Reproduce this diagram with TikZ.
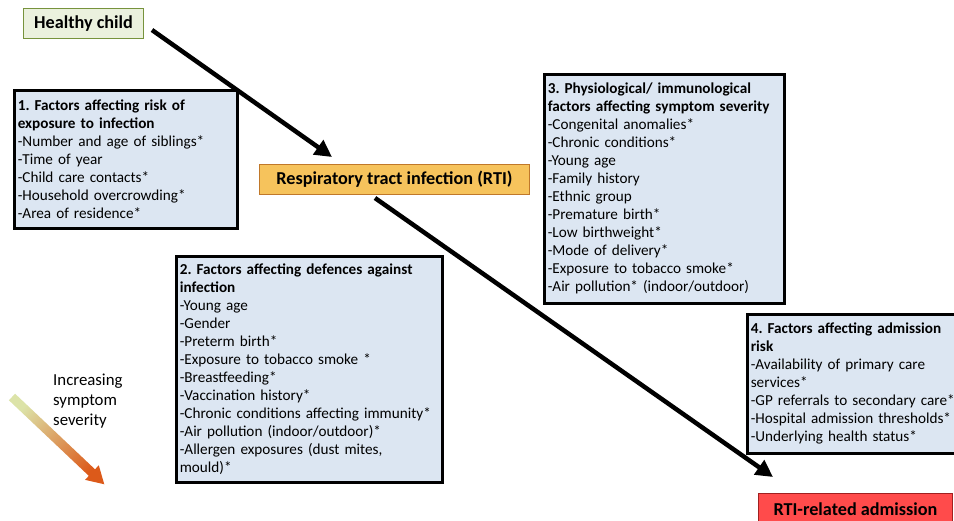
\documentclass[tikz,border=0pt]{standalone}
\usepackage{fontspec}
\setmainfont{Carlito}
\usetikzlibrary{arrows.meta}
\definecolor{boxblue}{HTML}{DCE6F2}
\definecolor{childfill}{HTML}{EBF1DE}
\definecolor{childline}{HTML}{77933C}
\definecolor{rtifill}{HTML}{F6C35C}
\definecolor{rtiline}{HTML}{C0782A}
\definecolor{admfill}{HTML}{FF4B4B}
\definecolor{admline}{HTML}{A02020}
\definecolor{sevstart}{HTML}{DCE3A8}
\definecolor{sevmid}{HTML}{E8B41E}
\definecolor{sevend}{HTML}{DC5A1A}
\frenchspacing

\begin{document}
\begin{tikzpicture}[x=1pt, y=1pt,
    factorbox/.style={draw=black, line width=2.6pt, fill=boxblue, anchor=north west,
      align=left, inner xsep=3.5pt, inner ysep=4pt,
      font=\fontsize{15.2pt}{18pt}\selectfont},
    stagebox/.style={draw, line width=1pt, anchor=north west, inner sep=0pt,
      font=\fontsize{18.2pt}{20pt}\selectfont\bfseries},
    pathway/.style={line width=4.5pt, -{Triangle[length=17pt,width=17pt]}}]
\useasboundingbox (0,0) rectangle (954,-520);

% stages of the pathway
\node[stagebox, fill=childfill, draw=childline, minimum width=120pt, minimum height=30pt]
    (child) at (23,-8) {Healthy child};
\node[stagebox, fill=rtifill, draw=rtiline, minimum width=270pt, minimum height=30pt]
    (rti) at (259,-164) {Respiratory tract infection (RTI)};
\node[stagebox, fill=admfill, draw=admline, minimum width=194pt, minimum height=40pt]
    (adm) at (758,-493) {\raisebox{9pt}{RTI-related admission}};

% factor boxes
\node[factorbox, text width=216pt, minimum height=138pt] (expo) at (13,-89)
    {\textbf{1. Factors affecting risk of}\\
     \textbf{exposure to infection}\\
     -Number and age of siblings*\\
     -Time of year\\
     -Child care contacts*\\
     -Household overcrowding*\\
     -Area of residence*};
\node[factorbox, text width=259pt, minimum height=226pt] (defence) at (175,-255)
    {\textbf{2. Factors affecting defences against}\\
     \textbf{infection}\\
     -Young age\\
     -Gender\\
     -Preterm birth*\\
     -Exposure to tobacco smoke *\\
     -Breastfeeding*\\
     -Vaccination history*\\
     -Chronic conditions affecting immunity*\\
     -Air pollution (indoor/outdoor)*\\
     -Allergen exposures (dust mites,\\
     mould)*};
\node[factorbox, text width=233pt, minimum height=229pt] (severity) at (543,-73)
    {\textbf{3. Physiological/ immunological}\\
     \textbf{factors affecting symptom severity}\\
     -Congenital anomalies*\\
     -Chronic conditions*\\
     -Young age\\
     -Family history\\
     -Ethnic group\\
     -Premature birth*\\
     -Low birthweight*\\
     -Mode of delivery*\\
     -Exposure to tobacco smoke*\\
     -Air pollution* (indoor/outdoor)};
\node[factorbox, text width=218pt, minimum height=139pt] (admrisk) at (746,-313)
    {\textbf{4. Factors affecting admission}\\
     \textbf{risk}\\
     -Availability of primary care\\
     services*\\
     -GP referrals to secondary care*\\
     -Hospital admission thresholds*\\
     -Underlying health status*};

% pathway arrows
\coordinate (c1) at (152,-30);
\coordinate (c2) at (332,-157);
\coordinate (c3) at (375,-198);
\coordinate (c4) at (773,-477);
\draw[pathway] (c1) -- (c2);
\draw[pathway] (c3) -- (c4);

% severity key
\node[anchor=north west, align=left, inner sep=0pt,
    font=\fontsize{16.8pt}{20pt}\selectfont] (sevtext) at (53,-374)
    {Increasing\\ symptom\\ severity};
\begin{scope}[shift={(12,-397)}, rotate=-43.4]
\shade[top color=sevstart, middle color=sevmid, bottom color=sevend, shading angle=45]
    (0,4.5) -- (110,4.5) -- (110,10) -- (127,0) -- (110,-10) -- (110,-4.5) -- (0,-4.5) -- cycle;
\end{scope}
\end{tikzpicture}
\end{document}
